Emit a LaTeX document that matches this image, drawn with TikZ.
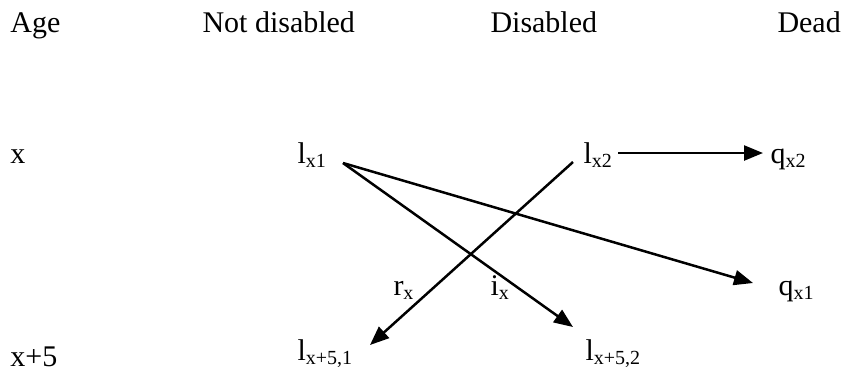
\documentclass[tikz,border=0pt]{standalone}
\usepackage{fontspec}
\setmainfont{Liberation Serif}
\usetikzlibrary{arrows.meta}
\tikzset{
  lbl/.style={anchor=base west,inner sep=0pt,font=\fontsize{12}{14}\selectfont},
  arr/.style={-{Triangle[length=7.6pt,width=6pt]},line width=1pt,draw=black}
}
\newcommand{\sbs}[1]{\textsubscript{#1}}

\begin{document}
\begin{tikzpicture}[x=0.4pt,y=-0.4pt]
    \path[use as bounding box,fill=white] (0,0) rectangle (841,369);
    % column heads
    \node[lbl] (age)    at (10,32)  {Age};
    \node[lbl] (notdis) at (202,32) {Not disabled};
    \node[lbl] (dis)    at (490,32) {Disabled};
    \node[lbl] (dead)   at (777,32) {Dead};
    % ages
    \node[lbl] (agex)  at (10,163) {x};
    \node[lbl] (agex5) at (10,366) {x+5};
    % states
    \node[lbl] (lxone)    at (297,163) {l\sbs{x1}};
    \node[lbl] (lxtwo)    at (583,163) {l\sbs{x2}};
    \node[lbl] (qxtwo)    at (770,163) {q\sbs{x2}};
    \node[lbl] (qxone)    at (778,295) {q\sbs{x1}};
    \node[lbl] (rx)       at (393,295) {r\sbs{x}};
    \node[lbl] (ix)       at (490,295) {i\sbs{x}};
    \node[lbl] (lfiveone) at (297,360) {l\sbs{x+5,1}};
    \node[lbl] (lfivetwo) at (585,360) {l\sbs{x+5,2}};
    % transitions
    \draw[arr] ([shift={(46,0)}]lxone.base west) -- ([shift={(-25,-12)}]qxone.base west);
    \draw[arr] ([shift={(46,0)}]lxone.base west) -- ([shift={(-12,-33)}]lfivetwo.base west);
    \draw[arr] ([shift={(-10,-1)}]lxtwo.base west) -- ([shift={(73,-15)}]lfiveone.base west);
    \draw[arr] ([shift={(35,-10)}]lxtwo.base west) -- ([shift={(-7,-10)}]qxtwo.base west);
\end{tikzpicture}
\end{document}
